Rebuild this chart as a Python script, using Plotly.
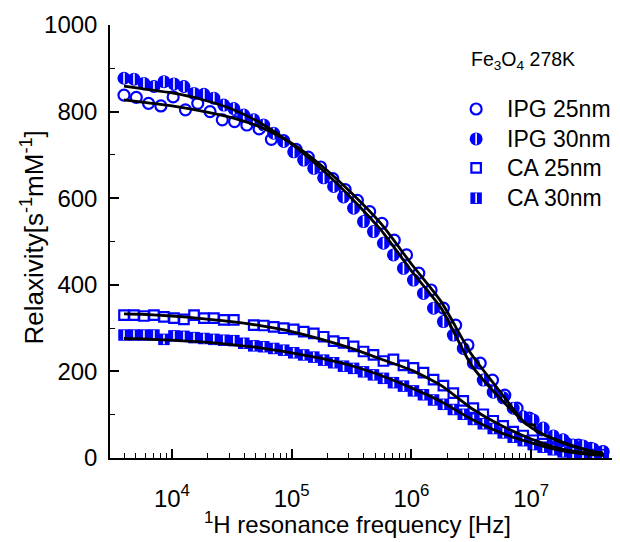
import plotly.graph_objects as go

# ---------------- data ----------------
freq = [3.98e3, 4.82e3, 5.84e3, 7.08e3, 8.58e3, 1.04e4, 1.26e4, 1.53e4, 1.85e4, 2.24e4, 2.71e4, 3.29e4,
        3.98e4, 4.82e4, 5.84e4, 7.08e4, 8.58e4, 1.04e5, 1.26e5, 1.53e5, 1.85e5, 2.24e5, 2.71e5, 3.29e5,
        3.98e5, 4.82e5, 5.84e5, 7.08e5, 8.58e5, 1.04e6, 1.26e6, 1.53e6, 1.85e6, 2.24e6, 2.71e6, 3.29e6,
        3.98e6, 4.82e6, 5.84e6, 7.08e6, 8.58e6, 1.04e7, 1.26e7, 1.53e7, 1.85e7, 2.24e7, 2.71e7, 3.29e7,
        3.98e7]

freq_ipg25 = [3.98e3, 5.04e3, 6.38e3, 8.09e3, 1.024e4, 1.297e4, 1.643e4, 2.08e4, 2.634e4, 3.336e4,
              4.224e4, 5.35e4, 6.77e4, 8.58e4, 1.086e5, 1.375e5, 1.742e5, 2.206e5, 2.794e5, 3.538e5,
              4.48e5, 5.675e5, 7.186e5, 9.1e5, 1.152e6, 1.459e6, 1.848e6, 2.34e6, 2.964e6, 3.753e6,
              4.753e6, 6.02e6, 7.62e6, 9.65e6, 1.222e7, 1.548e7, 1.96e7, 2.483e7, 3.144e7, 3.98e7]

ipg25 = [838, 833, 819, 813, 834, 804, 819, 800, 781, 777,
         769, 760, 736, 733, 713, 695, 672, 645, 620, 595,
         569, 542, 503, 469, 427, 388, 346, 307, 261, 219,
         180, 145, 115, 92, 65, 45, 34, 30, 22, 15]

ipg30 = [877, 875, 865, 858, 869, 864, 858, 842, 840, 831,
         815, 807, 792, 781, 769, 750, 731, 707, 688, 669,
         647, 627, 603, 577, 546, 523, 496, 469, 438, 411,
         380, 346, 315, 284, 253, 219, 180, 152, 139, 115,
         95, 88, 69, 51, 42, 30, 28, 21, 14]

ca25 = [330, 330, 328, 330, 326, 323, 320, 330, 323, 323,
        319, 319, None, 307, 306, 303, 300, 297, 292, 288,
        280, 270, 266, 258, 246, 238, 224, 228, 214, 208,
        197, 181, 167, 150, 132, 115, 101, 86, 74, 61,
        52, 41, 33, 25, 19, 14, 11, 8, 7]

ca30 = [284, 284, 284, 284, 274, 282, 281, 278, 276, 274,
        272, 271, 265, 259, 257, 253, 249, 243, 238, 233,
        226, 220, 212, 207, 199, 192, 184, 174, 166, 155,
        146, 134, 124, 112, 101, 89, 79, 68, 58, 48,
        40, 31, 25, 19, 14, 11, 9, 7, 6]

fit_freq = [3.98e3, 5.62e3, 1e4, 1.78e4, 3.16e4, 5.62e4, 1e5, 1.78e5, 3.16e5, 5.62e5,
            1e6, 1.78e6, 3.16e6, 5.62e6, 1e7, 1.78e7, 3.16e7, 3.98e7]
fit_ipg30 = [859, 853, 843, 828, 806, 772, 725, 667, 600, 525,
             432, 345, 215, 135, 70, 36, 16, 11]
fit_ca25 = [333, 332, 328, 322, 315, 305, 292, 274, 253, 228,
            203, 167, 115, 75, 44, 21, 10, 7]
fit_ca30 = [276, 275, 272, 268, 262, 254, 243, 230, 213, 190,
            162, 130, 90, 58, 35, 17, 8, 6]

fit_ipg25_freq = [3.98e3, 5.62e3, 1e4, 1.78e4, 3.16e4, 5.62e4, 1e5, 1.78e5, 3.16e5, 5.62e5,
                  1e6, 1.78e6, 3.16e6, 5.62e6, 9.12e6, 1.07e7, 1.084e7, 1.78e7, 3.16e7, 3.98e7]
fit_ipg25 = [827, 822, 813, 801, 786, 763, 727, 675, 612, 540,
             448, 360, 240, 150, 78, 76, 64, 38, 16, 11]

x_tickvals = [1e4, 1e5, 1e6, 1e7]
x_ticktext = ["10<sup>4</sup>", "10<sup>5</sup>", "10<sup>6</sup>", "10<sup>7</sup>"]
x_minor = [m * 10 ** e for e in range(3, 8) for m in range(2, 10)]
y_tickvals = [0, 200, 400, 600, 800, 1000]

legend_labels = ["IPG 25nm", "IPG 30nm", "CA 25nm", "CA 30nm"]

# ---------------- style ----------------
BLUE = "#0000ff"
FONT = "Liberation Sans, Arial, sans-serif"

fig = go.Figure()

open_circle = dict(symbol="circle-open", size=11, color=BLUE, line=dict(width=2.2, color=BLUE))
full_circle = dict(symbol="circle", size=13, color=BLUE, line=dict(width=0))
circle_gap = dict(symbol="line-ns", size=8, color="white", line=dict(width=1.6, color="white"))
open_square = dict(symbol="square-open", size=9.5, color=BLUE, line=dict(width=2.2, color=BLUE))
full_square = dict(symbol="square", size=11.5, color=BLUE, line=dict(width=0))
square_gap = dict(symbol="line-ns", size=7, color="white", line=dict(width=1.6, color="white"))

# data markers
fig.add_trace(go.Scatter(x=freq_ipg25, y=ipg25, mode="markers", marker=open_circle, showlegend=False))
fig.add_trace(go.Scatter(x=freq, y=ipg30, mode="markers", marker=full_circle, showlegend=False))
fig.add_trace(go.Scatter(x=freq, y=ipg30, mode="markers", marker=circle_gap, showlegend=False))
fig.add_trace(go.Scatter(x=freq, y=ca25, mode="markers", marker=open_square, showlegend=False))
fig.add_trace(go.Scatter(x=freq, y=ca30, mode="markers", marker=full_square, showlegend=False))
fig.add_trace(go.Scatter(x=freq, y=ca30, mode="markers", marker=square_gap, showlegend=False))

# fit lines
for fx, fy in [(fit_freq, fit_ipg30), (fit_ipg25_freq, fit_ipg25), (fit_freq, fit_ca25), (fit_freq, fit_ca30)]:
    fig.add_trace(go.Scatter(x=fx, y=fy, mode="lines",
                             line=dict(color="black", width=2.8, shape="spline", smoothing=0.6),
                             showlegend=False))

# legend keys on an overlay axis (plot-area fractions)
key_y = [0.806, 0.737, 0.670, 0.600]
key_x = 0.725
key_styles = [open_circle, full_circle, open_square, full_square]
for ky, st in zip(key_y, key_styles):
    fig.add_trace(go.Scatter(x=[key_x], y=[ky], mode="markers", marker=st, xaxis="x2", yaxis="y2",
                             showlegend=False, hoverinfo="skip"))
for ky, st in [(key_y[1], circle_gap), (key_y[3], square_gap)]:
    fig.add_trace(go.Scatter(x=[key_x], y=[ky], mode="markers", xaxis="x2", yaxis="y2",
                             marker=st, showlegend=False, hoverinfo="skip"))

annotations = [
    dict(x=0.818, y=0.919, xref="x2", yref="y2", text="Fe<sub>3</sub>O<sub>4</sub> 278K",
         showarrow=False, font=dict(family=FONT, size=19.5, color="black"),
         xanchor="center", yanchor="middle"),
    # axis titles
    dict(x=0.490, y=-0.150, xref="paper", yref="paper", text="<sup>1</sup>H resonance frequency [Hz]",
         showarrow=False, font=dict(family=FONT, size=24, color="black"),
         xanchor="center", yanchor="middle"),
    dict(x=-0.1525, y=0.509, xref="paper", yref="paper", text="Relaxivity[s<sup>-1</sup>mM<sup>-1</sup>]",
         showarrow=False, textangle=-90, font=dict(family=FONT, size=26, color="black"),
         xanchor="center", yanchor="middle"),
]
for ky, lab in zip(key_y, legend_labels):
    annotations.append(dict(x=0.782, y=ky, xref="x2", yref="y2", text=lab, showarrow=False,
                            font=dict(family=FONT, size=23, color="black"),
                            xanchor="left", yanchor="middle"))

axis_common = dict(showline=True, linecolor="black", linewidth=1.5, ticks="inside",
                   ticklen=9, tickwidth=1.5, tickcolor="black", showgrid=False, zeroline=False,
                   mirror=False, automargin=False, tickfont=dict(family=FONT, size=24, color="black"))

# page body has an 8px offset, so the figure is 8px smaller than the window
fig.update_layout(
    width=612, height=534,
    margin=dict(l=102, r=5, t=17, b=84),
    paper_bgcolor="white", plot_bgcolor="white",
    font=dict(family=FONT, color="black"),
    showlegend=False,
    xaxis=dict(type="log", range=[3.483, 7.7], tickmode="array", tickvals=x_tickvals, ticktext=x_ticktext,
               ticklabelstandoff=18,
               minor=dict(tickmode="array", tickvals=x_minor, ticks="inside", ticklen=5, tickwidth=1.2,
                          tickcolor="black", showgrid=False),
               **axis_common),
    yaxis=dict(range=[0, 1000], tickmode="array", tickvals=y_tickvals, ticklabelstandoff=6,
               minor=dict(dtick=100, ticks="inside", ticklen=5, tickwidth=1.2, tickcolor="black", showgrid=False),
               **axis_common),
    xaxis2=dict(domain=[0, 1], range=[0, 1], visible=False, overlaying="x", anchor="y2", automargin=False),
    yaxis2=dict(domain=[0, 1], range=[0, 1], visible=False, overlaying="y", anchor="x2", automargin=False),
    annotations=annotations,
)

fig.write_html("out.html")
